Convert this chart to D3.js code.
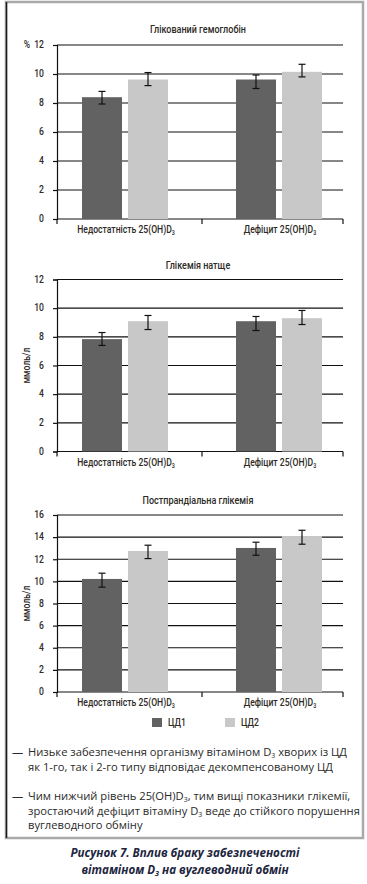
<!DOCTYPE html>
<html><head><meta charset="utf-8">
<script src="https://cdn.jsdelivr.net/npm/d3@7"></script>
<style>
html,body{margin:0;padding:0;background:#fff;}
svg{display:block;}
</style></head>
<body>
<script>
// ---- data ----
const categories = ["Недостатність 25(OH)D", "Дефіцит 25(OH)D"];
const series = ["ЦД1", "ЦД2"];
const chartTitles = ["Глікований гемоглобін", "Глікемія натще", "Постпрандіальна глікемія"];
const yUnits = ["%", "ммоль/л", "ммоль/л"];
const yMax = [12, 12, 16];

// Chart 1: glycated hemoglobin (%)
const hba1cCD1 = [8.4, 9.62];
const hba1cCD2 = [9.62, 10.15];
const hba1cCD1Lo = [7.93, 9.0], hba1cCD1Hi = [8.8, 9.93];
const hba1cCD2Lo = [9.2, 9.8], hba1cCD2Hi = [10.1, 10.67];

// Chart 2: fasting glycemia (mmol/l)
const fastCD1 = [7.84, 9.09];
const fastCD2 = [9.09, 9.3];
const fastCD1Lo = [7.4, 8.44], fastCD1Hi = [8.3, 9.42];
const fastCD2Lo = [8.51, 8.86], fastCD2Hi = [9.49, 9.84];

// Chart 3: postprandial glycemia (mmol/l)
const postCD1 = [10.22, 13.02];
const postCD2 = [12.75, 14.1];
const postCD1Lo = [9.48, 12.36], postCD1Hi = [10.74, 13.54];
const postCD2Lo = [12.06, 13.36], postCD2Hi = [13.27, 14.62];

const notes = [
  ["Низьке забезпечення організму вітаміном D|3| хворих із ЦД", "як 1-го, так і 2-го типу відповідає декомпенсованому ЦД"],
  ["Чим нижчий рівень 25(OH)D|3|, тим вищі показники глікемії,", "зростаючий дефіцит вітаміну D|3| веде до стійкого порушення", "вуглеводного обміну"]
];
const captionLines = ["Рисунок 7. Вплив браку забезпеченості", "вітаміном D|3| на вуглеводний обмін"];

const charts = [
  {vals:[hba1cCD1,hba1cCD2], lo:[hba1cCD1Lo,hba1cCD2Lo], hi:[hba1cCD1Hi,hba1cCD2Hi]},
  {vals:[fastCD1,fastCD2], lo:[fastCD1Lo,fastCD2Lo], hi:[fastCD1Hi,fastCD2Hi]},
  {vals:[postCD1,postCD2], lo:[postCD1Lo,postCD2Lo], hi:[postCD1Hi,postCD2Hi]}
];

// ---- layout ----
const W = 367, H = 884;
const colors = ["#626262", "#c8c8c9"];
const chartFont = "Roboto, 'Noto Sans', sans-serif";
const SX = 0.82; // horizontal condensing for chart labels
const textColor = "#2e2a26";
const layouts = [
  {titleY:30, top:45, bottom:219},
  {titleY:266, top:279.5, bottom:451.5},
  {titleY:501, top:515, bottom:692}
];
const axisL = 57, axisR = 343, midTick = 202;

const svg = d3.select("body").append("svg").attr("width", W).attr("height", H);

// frame
svg.append("rect").attr("x",6).attr("y",2).attr("width",357).attr("height",836)
  .attr("fill","none").attr("stroke","#a9a9a9").attr("stroke-width",2.5);
svg.append("line").attr("x1",6.5).attr("x2",6.5).attr("y1",2).attr("y2",838)
  .attr("stroke","#1a1a1a").attr("stroke-width",1.5);

const x0 = d3.scaleBand().domain(categories).range([48, 356]);
const x1 = d3.scaleBand().domain(series).range([34, 120]).paddingInner(0.1304);

// text with "|3|" marking a subscript
function richText(sel, str, fs) {
  const parts = str.split("|");
  let cur = 0;
  parts.forEach((p, i) => {
    if (!p) return;
    const sub = i % 2 === 1;
    const want = sub ? fs * 0.3 : 0;
    const ts = sel.append("tspan").text(p);
    if (want !== cur) ts.attr("dy", want - cur);
    if (sub) ts.attr("font-size", fs * 0.62);
    cur = want;
  });
}

// condensed chart text helper
function ctext(parent, x, y, str, opts = {}) {
  const fs = opts.fs || 10;
  const g = parent.append("g").attr("transform", `translate(${x},${y})${opts.rotate ? ` rotate(${opts.rotate})` : ""} scale(${SX},1)`);
  const t = g.append("text").attr("x", 0).attr("y", 0)
    .attr("text-anchor", opts.anchor || "middle").attr("dominant-baseline", "middle")
    .attr("font-family", chartFont).attr("font-size", fs).attr("font-weight", opts.weight || 500)
    .attr("fill", textColor);
  richText(t, str, fs);
  return t;
}

charts.forEach((c, ci) => {
  const L = layouts[ci];
  const g = svg.append("g");
  const y = d3.scaleLinear().domain([0, yMax[ci]]).range([L.bottom, L.top]);
  const ticks = d3.range(0, yMax[ci] + 0.001, 2);

  ctext(g, 198, L.titleY, chartTitles[ci], {fs: 11});

  // gridlines
  g.selectAll(".grid").data(ticks.filter(t => t > 0)).join("line")
    .attr("x1", axisL).attr("x2", axisR).attr("y1", d => y(d)).attr("y2", d => y(d))
    .attr("stroke", "#111").attr("stroke-width", 1.2);

  // y axis
  const yAxis = d3.axisLeft(y).tickValues(ticks).tickSize(4).tickFormat("");
  const ya = g.append("g").attr("transform", `translate(${axisL},0)`).call(yAxis);
  ya.select(".domain").attr("stroke","#111").attr("stroke-width",1.2);
  ya.selectAll(".tick line").attr("stroke","#111").attr("stroke-width",1.2);
  ya.selectAll("text").remove();
  ticks.forEach(t => ctext(g, 44, y(t), d3.format("d")(t), {fs: 10.5, anchor: "end"}));

  // x axis
  g.append("line").attr("x1", axisL).attr("x2", axisR).attr("y1", L.bottom).attr("y2", L.bottom)
    .attr("stroke","#111").attr("stroke-width",1.2);
  [axisL, midTick, axisR].forEach(tx => {
    g.append("line").attr("x1", tx).attr("x2", tx).attr("y1", L.bottom).attr("y2", L.bottom + 5)
      .attr("stroke","#111").attr("stroke-width",1.2);
  });
  categories.forEach(cat => {
    ctext(g, x0(cat) + x0.bandwidth()/2 + 1, L.bottom + 11, cat + "|3|", {fs: 10.5});
  });

  // unit label
  if (ci === 0) {
    ctext(g, 27, y(yMax[ci]), yUnits[ci], {fs: 10.5});
  } else {
    ctext(g, 27, (L.top + L.bottom)/2, yUnits[ci], {fs: 10.5, rotate: -90});
  }

  // bars
  series.forEach((s, si) => {
    categories.forEach((cat, k) => {
      const bx = x0(cat) + x1(s);
      const v = c.vals[si][k];
      g.append("rect").attr("x", bx).attr("y", y(v)).attr("width", x1.bandwidth())
        .attr("height", y(0) - y(v)).attr("fill", colors[si]);
      const cx = bx + x1.bandwidth()/2;
      const lo = y(c.lo[si][k]), hi = y(c.hi[si][k]);
      g.append("line").attr("x1", cx).attr("x2", cx).attr("y1", lo).attr("y2", hi)
        .attr("stroke","#111").attr("stroke-width",1.2);
      [lo, hi].forEach(yy => g.append("line").attr("x1", cx-3.5).attr("x2", cx+3.5)
        .attr("y1", yy).attr("y2", yy).attr("stroke","#111").attr("stroke-width",1.2));
    });
  });
});

// legend
const legX = [152, 225];
series.forEach((s, i) => {
  svg.append("rect").attr("x", legX[i]).attr("y", 718).attr("width", 10).attr("height", 9).attr("fill", colors[i]);
  ctext(svg, legX[i] + 16, 723, s, {fs: 10.5, anchor: "start"});
});

// notes
const noteFont = "'Open Sans', 'Noto Sans', sans-serif";
const noteFs = 11.2;
const noteY = [[753, 768], [797, 812, 826]];
notes.forEach((lines, ni) => {
  svg.append("text").attr("x", 12).attr("y", noteY[ni][0]).attr("dominant-baseline","middle")
    .attr("font-family", noteFont).attr("font-size", noteFs).attr("fill", "#2a2a2a").text("—");
  lines.forEach((ln, li) => {
    const t = svg.append("text").attr("x", 28).attr("y", noteY[ni][li]).attr("dominant-baseline","middle")
      .attr("font-family", noteFont).attr("font-size", noteFs).attr("fill", "#2a2a2a");
    richText(t, ln, noteFs);
  });
});

// caption
const capY = [854, 871];
const capFs = 11.6;
captionLines.forEach((ln, i) => {
  const t = svg.append("text").attr("x", 185).attr("y", capY[i]).attr("text-anchor","middle")
    .attr("dominant-baseline","middle").attr("font-family", noteFont).attr("font-size", capFs)
    .attr("font-weight","bold").attr("font-style","italic").attr("fill", "#1d2640");
  richText(t, ln, capFs);
});
</script>
</body></html>
